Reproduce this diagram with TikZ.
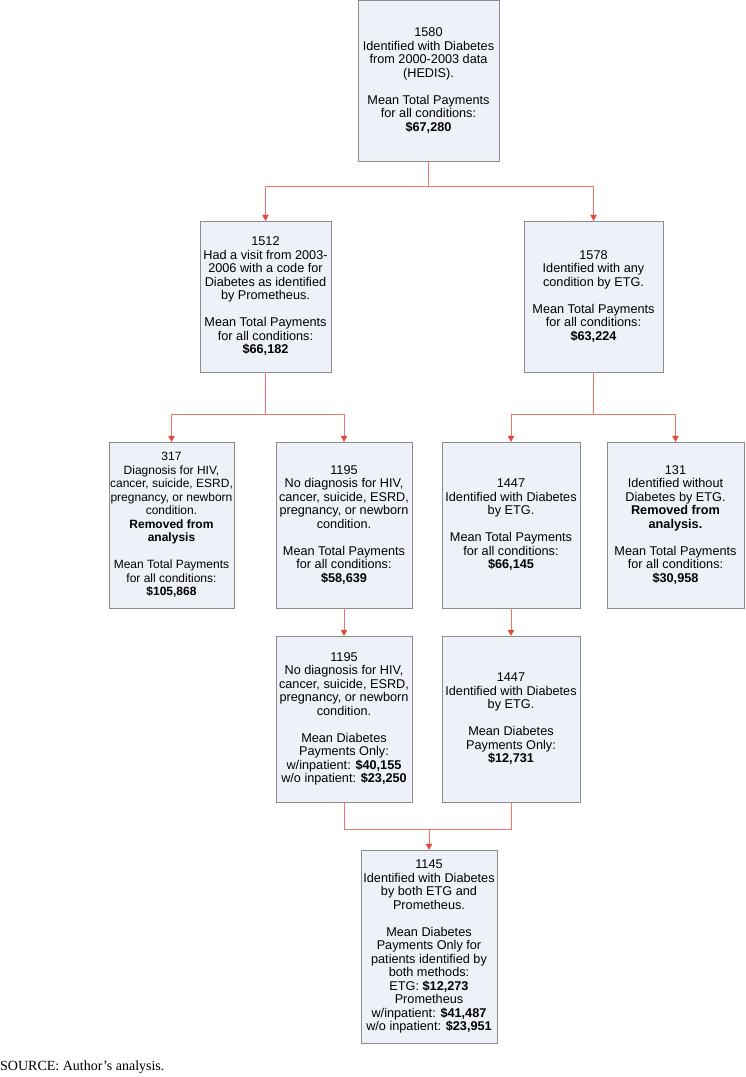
\documentclass[tikz,border=0pt]{standalone}
\usepackage{fontspec}
\setmainfont{Liberation Sans}
\newfontfamily\srcfont{Liberation Serif}
\usepackage{xcolor}
\definecolor{fcFill}{RGB}{238,242,248}
\definecolor{fcEdge}{RGB}{140,140,140}
\definecolor{fcRed}{RGB}{228,72,58}
\usetikzlibrary{positioning,arrows.meta}

\begin{document}
\begin{tikzpicture}[x=1pt,y=-1pt,
  b/.style={draw=fcEdge,fill=fcFill,align=center,inner sep=1pt,
    font=\fontsize{12.7}{13.5}\selectfont},
  l/.style={fcRed!75,line width=0.7pt},
  a/.style={l,-{Triangle[length=6pt,width=6.5pt,color=fcRed]}}]
  \useasboundingbox (0,0) rectangle (746,1077);
  % top
  \node[b,minimum width=141,minimum height=161] (all) at (428.5,80.5)
    {1580\\Identified with Diabetes\\from 2000-2003 data\\(HEDIS).\\[13.5pt]
     Mean Total Payments\\for all conditions:\\\textbf{\$67,280}};
  % second row
  \node[b,minimum width=131,minimum height=151] (prom) at (265.5,296.5)
    {1512\\Had a visit from 2003-\\2006 with a code for\\Diabetes as identified\\by Prometheus.\\[13.5pt]
     Mean Total Payments\\for all conditions:\\\textbf{\$66,182}};
  \node[b,minimum width=139,minimum height=151] (etg) at (593.5,296.5)
    {1578\\Identified with any\\condition by ETG.\\[13.5pt]
     Mean Total Payments\\for all conditions:\\\textbf{\$63,224}};
  % third row
  \node[b,minimum width=123,minimum height=166,font=\fontsize{12}{13.5}\selectfont] (dx) at (171.5,525)
    {317\\Diagnosis for HIV,\\cancer, suicide, ESRD,\\pregnancy, or newborn\\condition.\\
     \textbf{Removed from}\\\textbf{analysis}\\[13.5pt]
     Mean Total Payments\\for all conditions:\\\textbf{\$105,868}};
  \node[b,minimum width=136,minimum height=166] (nodx) at (344,525)
    {1195\\No diagnosis for HIV,\\cancer, suicide, ESRD,\\pregnancy, or newborn\\condition.\\[13.5pt]
     Mean Total Payments\\for all conditions:\\\textbf{\$58,639}};
  \node[b,minimum width=138,minimum height=166] (diab) at (511,525)
    {1447\\Identified with Diabetes\\by ETG.\\[13.5pt]
     Mean Total Payments\\for all conditions:\\\textbf{\$66,145}};
  \node[b,minimum width=137,minimum height=166] (nodiab) at (675.5,525)
    {131\\Identified without\\Diabetes by ETG.\\
     \textbf{Removed from}\\\textbf{analysis.}\\[13.5pt]
     Mean Total Payments\\for all conditions:\\\textbf{\$30,958}};
  % fourth row
  \node[b,minimum width=136,minimum height=166] (nodxpay) at (344,719)
    {1195\\No diagnosis for HIV,\\cancer, suicide, ESRD,\\pregnancy, or newborn\\condition.\\[13.5pt]
     Mean Diabetes\\Payments Only:\\w/inpatient: \textbf{\$40,155}\\w/o inpatient: \textbf{\$23,250}};
  \node[b,minimum width=138,minimum height=166] (diabpay) at (511,719)
    {1447\\Identified with Diabetes\\by ETG.\\[13.5pt]
     Mean Diabetes\\Payments Only:\\\textbf{\$12,731}};
  % bottom
  \node[b,minimum width=136,minimum height=193] (both) at (429,946.5)
    {1145\\Identified with Diabetes\\by both ETG and\\Prometheus.\\[13.5pt]
     Mean Diabetes\\Payments Only for\\patients identified by\\both methods:\\
     ETG: \textbf{\$12,273}\\Prometheus\\w/inpatient: \textbf{\$41,487}\\w/o inpatient: \textbf{\$23,951}};
  \node[font=\srcfont\fontsize{14}{16}\selectfont,anchor=base west,inner sep=0pt]
    (src) at (0,1070) {SOURCE: Author’s analysis.};
  % connectors
  \draw[a] (all.south) -- ++(0,25) -| (prom.north);
  \draw[a] (all.south) -- ++(0,25) -| (etg.north);
  \draw[a] (prom.south) -- ++(0,42) -| (dx.north);
  \draw[a] (prom.south) -- ++(0,42) -| (nodx.north);
  \draw[a] (etg.south) -- ++(0,42) -| (diab.north);
  \draw[a] (etg.south) -- ++(0,42) -| (nodiab.north);
  \draw[a] (nodx) -- (nodxpay);
  \draw[a] (diab) -- (diabpay);
  \coordinate (j) at (429,829);
  \draw[l] (nodxpay.south) |- (j) -| (diabpay.south);
  \draw[a] (j) -- (both);
\end{tikzpicture}
\end{document}
